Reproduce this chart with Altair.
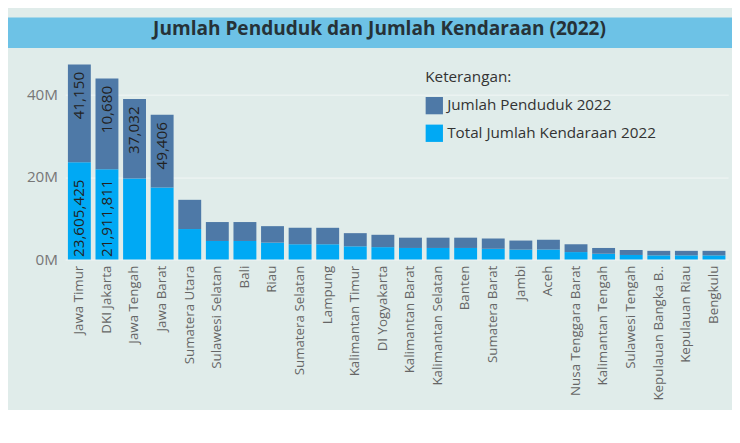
import altair as alt
import pandas as pd

provinsi = ["Jawa Timur", "DKI Jakarta", "Jawa Tengah", "Jawa Barat", "Sumatera Utara",
            "Sulawesi Selatan", "Bali", "Riau", "Sumatera Selatan", "Lampung",
            "Kalimantan Timur", "DI Yogyakarta", "Kalimantan Barat", "Kalimantan Selatan",
            "Banten", "Sumatera Barat", "Jambi", "Aceh", "Nusa Tenggara Barat",
            "Kalimantan Tengah", "Sulawesi Tengah", "Kepulauan Bangka B..",
            "Kepulauan Riau", "Bengkulu"]
# bar heights (millions)
tinggi_total = [47.4, 44.0, 39.0, 35.2, 14.5, 9.1, 9.1, 8.1, 7.7, 7.7, 6.4, 6.0, 5.3, 5.3,
                5.3, 5.1, 4.6, 4.8, 3.7, 2.8, 2.3, 2.1, 2.1, 2.1]
kendaraan = [23.605425, 21.911811, 19.7, 17.5, 7.4, 4.5, 4.5, 4.1, 3.7, 3.7, 3.2, 3.0, 2.8,
             2.8, 2.8, 2.6, 2.4, 2.4, 1.8, 1.4, 1.1, 1.0, 1.0, 1.0]
label_penduduk = ["41,150", "10,680", "37,032", "49,406"]
label_kendaraan = ["23,605,425", "21,911,811"]

DARK = "#4E79A7"
LIGHT = "#00A9F4"
BG = "#E0ECEA"

rows = []
for i, p in enumerate(provinsi):
    rows.append({"prov": p, "seri": "Total Jumlah Kendaraan 2022",
                 "y0": 0, "y1": kendaraan[i] * 1e6})
    rows.append({"prov": p, "seri": "Jumlah Penduduk 2022",
                 "y0": kendaraan[i] * 1e6, "y1": tinggi_total[i] * 1e6})
df = pd.DataFrame(rows)

lab = []
for i, t in enumerate(label_penduduk):
    lab.append({"prov": provinsi[i], "txt": t, "y": tinggi_total[i] * 1e6 - 1.8e6, "a": "right"})
for i, t in enumerate(label_kendaraan):
    lab.append({"prov": provinsi[i], "txt": t, "y": 0.6e6, "a": "left"})
df_lab = pd.DataFrame(lab)

x = alt.X("prov:N", sort=provinsi, title=None,
          scale=alt.Scale(paddingInner=0.17, paddingOuter=0.1),
          axis=alt.Axis(labelAngle=-90, labelFontSize=14, labelColor="#666",
                        labelPadding=6, ticks=False, domain=False, labelLimit=200))

bars = alt.Chart(df).mark_bar().encode(
    x=x,
    y=alt.Y("y1:Q", title=None, scale=alt.Scale(domain=[0, 50e6], nice=False),
            axis=alt.Axis(values=[0, 20e6, 40e6], labelExpr="datum.value/1e6 + 'M'",
                          labelFontSize=16, labelColor="#777", gridColor="#F2F7F6",
                          ticks=False, domain=False, labelPadding=8)),
    y2="y0:Q",
    color=alt.Color("seri:N", scale=alt.Scale(
        domain=["Jumlah Penduduk 2022", "Total Jumlah Kendaraan 2022"],
        range=[DARK, LIGHT]),
        legend=alt.Legend(title="Keterangan:", orient="none", legendX=378, legendY=55,
                          titleFontSize=16, titleFontWeight="normal", titleColor="#333",
                          labelFontSize=16, labelColor="#333", symbolType="square",
                          symbolSize=330, symbolStrokeWidth=0, rowPadding=10,
                          titlePadding=12, labelLimit=300)),
)

base_text = alt.Chart(df_lab).encode(x=alt.X("prov:N", sort=provinsi), y="y:Q", text="txt:N")
t_right = base_text.transform_filter("datum.a == 'right'").mark_text(
    angle=270, align="right", baseline="middle", fontSize=16, color="#222")
t_left = base_text.transform_filter("datum.a == 'left'").mark_text(
    angle=270, align="left", baseline="middle", fontSize=16, color="#222")

main = alt.layer(bars, t_right, t_left).properties(width=696, height=216)

judul = pd.DataFrame({"t": ["Jumlah Penduduk dan Jumlah Kendaraan (2022)"]})
header = alt.Chart(judul).mark_rect(color="#6DC2E6").encode(
    x=alt.value(-60), x2=alt.value(700), y=alt.value(0), y2=alt.value(32))
header_text = alt.Chart(judul).mark_text(
    fontSize=20, fontWeight="bold", color="#263238").encode(
    x=alt.value(330), y=alt.value(12), text="t:N")
top = alt.layer(header, header_text).properties(width=696, height=32)

chart = alt.vconcat(top, main, spacing=6).configure(
    background=BG, font="Open Sans", padding=0
).configure_view(stroke=None, fill=BG)

chart.save("out.html", embed_options={"renderer": "svg", "actions": False})
